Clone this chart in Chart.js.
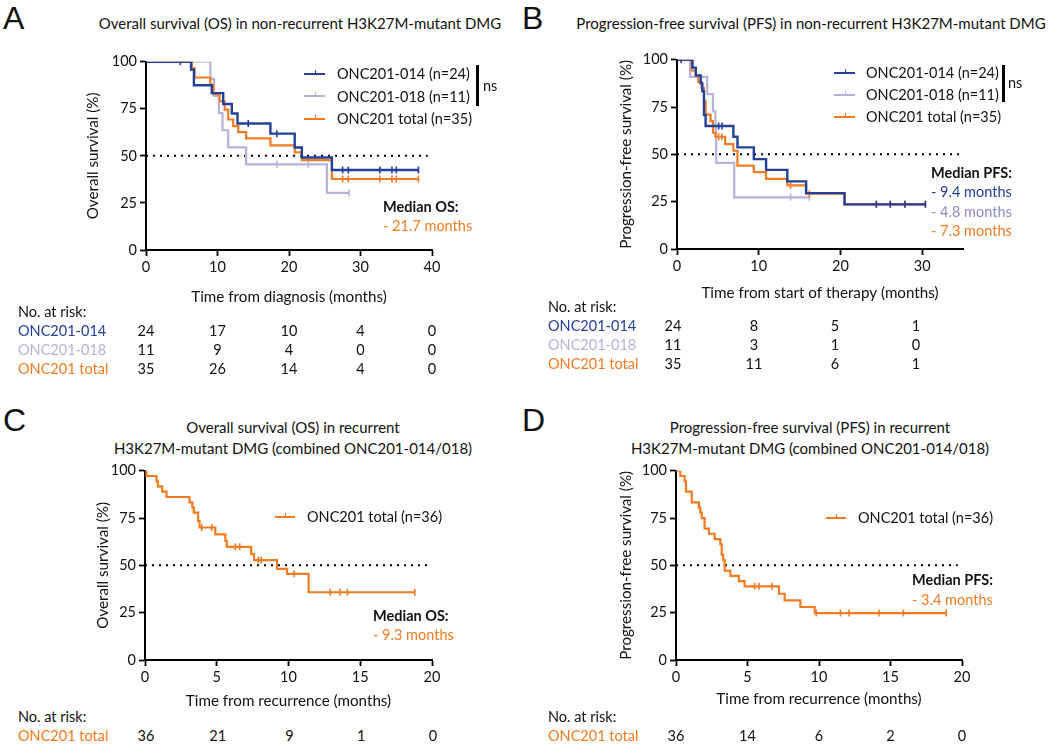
<!DOCTYPE html>
<html>
<head>
<meta charset="utf-8">
<script src="https://cdn.jsdelivr.net/npm/chart.js@4.4.1/dist/chart.umd.min.js"></script>
<style>
  body { margin: 0; background: #fff; }
  #page { position: relative; width: 1049px; height: 751px; overflow: hidden; font-family: Lato, sans-serif; color: #111; }
  canvas { position: absolute; }
  .t { position: absolute; white-space: nowrap; font-size: 14.5px; line-height: 1; transform: translateY(-50%); }
  .letter { position: absolute; font-family: "Liberation Sans", Arial, sans-serif; font-size: 32px; line-height: 1; }
  .sw { position: absolute; height: 0; }
  .sw i { position: absolute; left: 50%; top: -5px; height: 5px; }
  .bar { position: absolute; width: 2.5px; background: #000; }
</style>
</head>
<body>
<div id="page">
  <canvas id="cA" width="390" height="260" style="left:80px;top:50px"></canvas>
  <canvas id="cB" width="387" height="258" style="left:613px;top:48px"></canvas>
  <canvas id="cC" width="380" height="255" style="left:90px;top:459px"></canvas>
  <canvas id="cD" width="387" height="253" style="left:613px;top:459px"></canvas>
</div>
<script>
// ---- data ----
// A: overall survival, non-recurrent
const osA014T = [0, 6.3, 6.7, 9.2, 10.8, 12.0, 12.8, 17.4, 20.8, 21.8, 26.0, 38.1];
const osA014S = [100, 95.8, 87.5, 83.3, 77.5, 72.5, 67.2, 61.8, 54.4, 49.1, 42.5, 42.5];
const osA014C = [4.8, 14.3, 18.3, 27.5, 28.3, 32.7, 34.4, 35.0, 38.1];
const osA018T = [0, 9.0, 9.5, 10.2, 10.7, 11.5, 14.0, 25.3, 28.4];
const osA018S = [100, 90.9, 81.8, 72.7, 63.6, 54.5, 45.5, 30.3, 30.3];
const osA018C = [18.3, 22.7, 28.4];
const osATotT = [0, 6.4, 6.8, 9.0, 9.4, 10.3, 11.0, 11.5, 12.2, 12.9, 14.0, 17.4, 20.8, 21.8, 26.0, 38.1];
const osATotS = [100, 96.5, 91.6, 87.7, 82.8, 79.0, 74.6, 69.3, 65.8, 62.6, 59.3, 55.6, 51.8, 47.7, 37.7, 37.7];
const osATotC = [27.5, 28.3, 32.7, 34.4, 35.0, 38.1];

// B: progression-free survival, non-recurrent
const pfsB014T = [0, 1.9, 2.3, 2.9, 3.1, 3.3, 3.5, 6.9, 7.4, 9.4, 10.9, 13.5, 15.8, 20.5, 30.4];
const pfsB014S = [100, 95.8, 91.7, 87.5, 83.3, 70.8, 65.0, 59.3, 53.7, 47.5, 41.8, 35.7, 29.5, 23.6, 23.6];
const pfsB014C = [0.5, 5.1, 5.5, 24.4, 26.1, 27.9, 30.4];
const pfsB018T = [0, 1.6, 3.7, 4.4, 4.7, 4.8, 7.0, 16.2];
const pfsB018S = [100, 90.9, 81.8, 72.7, 63.6, 45.5, 27.3, 27.3];
const pfsB018C = [13.9, 16.2];
const pfsBTotT = [0, 1.8, 2.3, 2.6, 3.0, 3.3, 3.5, 4.1, 4.4, 4.7, 5.9, 6.9, 7.4, 9.4, 10.9, 13.5, 15.8, 20.5, 30.4];
const pfsBTotS = [100, 94.3, 91.4, 88.3, 85.0, 78.0, 71.0, 67.6, 61.5, 59.3, 55.4, 51.9, 44.0, 40.6, 37.0, 33.6, 29.2, 23.6, 23.6];
const pfsBTotC = [5.1, 5.5, 13.9, 16.2, 24.4, 26.1, 27.9, 30.4];

// C: overall survival, recurrent
const osCT = [0, 0.1, 0.8, 0.9, 1.2, 1.5, 3.1, 3.3, 3.4, 3.7, 3.8, 4.9, 5.6, 5.7, 7.4, 7.6, 9.2, 9.9, 11.4, 18.8];
const osCS = [100, 97.2, 94.4, 91.7, 88.9, 86.1, 83.3, 80.6, 77.8, 73.4, 70.0, 66.4, 62.9, 59.8, 56.0, 52.8, 48.1, 45.5, 35.8, 35.8];
const osCC = [3.95, 4.65, 6.3, 6.6, 7.9, 8.1, 10.4, 12.9, 13.6, 14.1, 18.8];

// D: progression-free survival, recurrent
const pfsDT = [0, 0.3, 0.6, 0.7, 1.1, 1.6, 1.7, 1.8, 2.0, 2.3, 2.7, 3.1, 3.2, 3.3, 3.4, 3.8, 4.4, 4.8, 7.2, 7.6, 8.7, 9.7, 18.9];
const pfsDS = [100, 97.2, 94.4, 88.9, 83.3, 80.6, 77.8, 75.0, 69.4, 66.7, 63.9, 61.1, 55.6, 52.8, 47.2, 44.4, 41.7, 38.9, 35.0, 31.5, 28.0, 24.8, 24.8];
const pfsDC = [5.5, 5.8, 6.7, 9.8, 11.5, 12.1, 14.2, 15.9, 18.9];

// numbers at risk
const riskA = { t: [0, 10, 20, 30, 40], s014: [24, 17, 10, 4, 0], s018: [11, 9, 4, 0, 0], tot: [35, 26, 14, 4, 0] };
const riskB = { t: [0, 10, 20, 30], s014: [24, 8, 5, 1], s018: [11, 3, 1, 0], tot: [35, 11, 6, 1] };
const riskC = { t: [0, 5, 10, 15, 20], tot: [36, 21, 9, 1, 0] };
const riskD = { t: [0, 5, 10, 15, 20], tot: [36, 14, 6, 2, 0] };

const medianLevel = 50;

// ---- styling ----
const BLUE = '#23409b', LAV = '#b6b2dc', ORANGE = '#f47b20', LAVTXT = '#8f8cc9';
const FONT = 'Lato, sans-serif';

function stepAt(ts, vs, t) {
  let v = vs[0];
  for (let i = 0; i < ts.length; i++) if (ts[i] <= t) v = vs[i];
  return v;
}
const pts = (ts, vs) => ts.map((t, i) => ({ x: t, y: vs[i] }));
const cens = (ts, vs, cs) => cs.map(c => ({ x: c, y: stepAt(ts, vs, c) }));

function km(ts, vs, cs, color, w) {
  return [
    { data: pts(ts, vs), showLine: true, stepped: true, borderColor: color, borderWidth: w, pointRadius: 0 },
    { data: cens(ts, vs, cs), showLine: false, pointStyle: 'line', rotation: 90, pointRadius: 3.5,
      borderColor: color, pointBorderWidth: 1.6 }
  ];
}
function dotted(xEnd) {
  return { data: [{ x: 0, y: medianLevel }, { x: xEnd, y: medianLevel }], showLine: true, borderColor: '#000',
           borderWidth: 2, borderDash: [2, 5], pointRadius: 0 };
}

function makeChart(id, sets, xMax, xStep, xTitle, yTitle, yW, xH, padR) {
  const tickFont = { family: FONT, size: 14.5 };
  return new Chart(document.getElementById(id), {
    type: 'scatter',
    data: { datasets: sets },
    options: {
      responsive: false, animation: false,
      layout: { padding: { top: 10, right: padR, left: 0, bottom: 0 } },
      plugins: { legend: { display: false }, tooltip: { enabled: false } },
      scales: {
        x: {
          type: 'linear', min: 0, max: xMax,
          ticks: { stepSize: xStep, includeBounds: false, color: '#111', font: tickFont, padding: 3, maxRotation: 0 },
          grid: { drawOnChartArea: false, drawTicks: true, tickLength: 6, tickWidth: 1.8, tickColor: '#000' },
          border: { color: '#000', width: 2 },
          title: { display: true, text: xTitle, color: '#111', font: { family: FONT, size: 15.2 } },
          afterFit(s) { s.height = xH; }
        },
        y: {
          type: 'linear', min: 0, max: 100,
          ticks: { stepSize: 25, color: '#111', font: tickFont, padding: 3 },
          grid: { drawOnChartArea: false, drawTicks: true, tickLength: 6, tickWidth: 1.8, tickColor: '#000' },
          border: { color: '#000', width: 2 },
          title: { display: true, text: yTitle, color: '#111', font: { family: FONT, size: 15.2 } },
          afterFit(s) { s.width = yW; }
        }
      }
    }
  });
}

makeChart('cA', [
  ...km(osA014T, osA014S, osA014C, BLUE, 2.4),
  ...km(osATotT, osATotS, osATotC, ORANGE, 2.2),
  ...km(osA018T, osA018S, osA018C, LAV, 2.2),
  dotted(39.4)
], 40, 10, 'Time from diagnosis (months)', 'Overall survival (%)', 66, 60, 38);

makeChart('cB', [
  ...km(pfsB014T, pfsB014S, pfsB014C, BLUE, 2.4),
  ...km(pfsBTotT, pfsBTotS, pfsBTotC, ORANGE, 2.2),
  ...km(pfsB018T, pfsB018S, pfsB018C, LAV, 2.2),
  dotted(34.9)
], 35, 10, 'Time from start of therapy (months)', 'Progression-free survival (%)', 64, 57, 37);

makeChart('cC', [
  ...km(osCT, osCS, osCC, ORANGE, 2.2),
  dotted(19.65)
], 20, 5, 'Time from recurrence (months)', 'Overall survival (%)', 55, 54, 38);

makeChart('cD', [
  ...km(pfsDT, pfsDS, pfsDC, ORANGE, 2.2),
  dotted(19.7)
], 20, 5, 'Time from recurrence (months)', 'Progression-free survival (%)', 63, 52, 38);

// ---- text overlay ----
const page = document.getElementById('page');
function txt(x, y, s, o = {}) {
  const d = document.createElement('div');
  d.className = 't';
  d.textContent = s;
  d.style.left = x + 'px';
  d.style.top = y + 'px';
  if (o.color) d.style.color = o.color;
  if (o.bold) d.style.fontWeight = '700';
  if (o.size) d.style.fontSize = o.size + 'px';
  if (o.align === 'center') d.style.transform = 'translate(-50%,-50%)';
  page.appendChild(d);
  return d;
}
function letter(x, y, s) {
  const d = document.createElement('div');
  d.className = 'letter'; d.textContent = s;
  d.style.left = x + 'px'; d.style.top = y + 'px';
  page.appendChild(d);
}
function swatch(x, y, w, color, lw) {
  const d = document.createElement('div');
  d.className = 'sw';
  d.style.left = x + 'px'; d.style.top = (y - lw / 2) + 'px'; d.style.width = w + 'px';
  d.style.borderTop = lw + 'px solid ' + color;
  const i = document.createElement('i');
  i.style.borderLeft = '1.6px solid ' + color;
  d.appendChild(i);
  page.appendChild(d);
}
function bar(x, y0, y1) {
  const d = document.createElement('div');
  d.className = 'bar';
  d.style.left = x + 'px'; d.style.top = y0 + 'px'; d.style.height = (y1 - y0) + 'px';
  page.appendChild(d);
}

letter(3, 2, 'A'); letter(522, 2, 'B'); letter(3, 404, 'C'); letter(522, 404, 'D');

txt(300, 23, 'Overall survival (OS) in non-recurrent H3K27M-mutant DMG', { align: 'center', size: 15 });
txt(811, 23, 'Progression-free survival (PFS) in non-recurrent H3K27M-mutant DMG', { align: 'center', size: 15 });
txt(293, 427, 'Overall survival (OS) in recurrent', { align: 'center', size: 15 });
txt(293, 448, 'H3K27M-mutant DMG (combined ONC201-014/018)', { align: 'center', size: 15 });
txt(810, 427, 'Progression-free survival (PFS) in recurrent', { align: 'center', size: 15 });
txt(810, 448, 'H3K27M-mutant DMG (combined ONC201-014/018)', { align: 'center', size: 15 });

// legends
const legA = [['ONC201-014 (n=24)', BLUE, 2.4], ['ONC201-018 (n=11)', LAV, 2.2], ['ONC201 total (n=35)', ORANGE, 2.2]];
legA.forEach((l, i) => { swatch(304, 74 + i * 22.5, 21, l[1], l[2]); txt(337, 74 + i * 22.5, l[0]); });
bar(476, 65, 106); txt(483, 86, 'ns');
const legB = [['ONC201-014 (n=24)', BLUE, 2.4], ['ONC201-018 (n=11)', LAV, 2.2], ['ONC201 total (n=35)', ORANGE, 2.2]];
legB.forEach((l, i) => { swatch(834, 73 + i * 22, 21, l[1], l[2]); txt(866, 73 + i * 22, l[0]); });
bar(1002, 65, 102); txt(1008, 83, 'ns');
swatch(275, 517, 20, ORANGE, 2.2); txt(307, 517, 'ONC201 total (n=36)');
swatch(826, 518, 20, ORANGE, 2.2); txt(858, 518, 'ONC201 total (n=36)');

// medians
txt(383, 207, 'Median OS:', { bold: true }); txt(383, 226, '- 21.7 months', { color: ORANGE });
txt(931, 173, 'Median PFS:', { bold: true });
txt(931, 192, '- 9.4 months', { color: BLUE });
txt(931, 212, '- 4.8 months', { color: LAVTXT });
txt(931, 231, '- 7.3 months', { color: ORANGE });
txt(373, 616, 'Median OS:', { bold: true }); txt(373, 635, '- 9.3 months', { color: ORANGE });
txt(912, 580, 'Median PFS:', { bold: true }); txt(912, 600, '- 3.4 months', { color: ORANGE });

// numbers at risk
function riskTable(x0, xA, xScale, yHead, rows, table) {
  txt(x0, yHead, 'No. at risk:');
  rows.forEach(([label, key, color], r) => {
    const y = yHead + 19 * (r + 1);
    txt(x0, y, label, { color });
    table[key].forEach((n, i) => txt(xA + table.t[i] * xScale, y, String(n), { align: 'center' }));
  });
}
riskTable(18, 146, 7.15, 312, [['ONC201-014', 's014', BLUE], ['ONC201-018', 's018', LAV], ['ONC201 total', 'tot', ORANGE]], riskA);
riskTable(548, 673, 8.1, 307, [['ONC201-014', 's014', BLUE], ['ONC201-018', 's018', LAV], ['ONC201 total', 'tot', ORANGE]], riskB);
riskTable(18, 146, 14.35, 717, [['ONC201 total', 'tot', ORANGE]], riskC);
riskTable(548, 676, 14.3, 717, [['ONC201 total', 'tot', ORANGE]], riskD);
</script>
</body>
</html>
